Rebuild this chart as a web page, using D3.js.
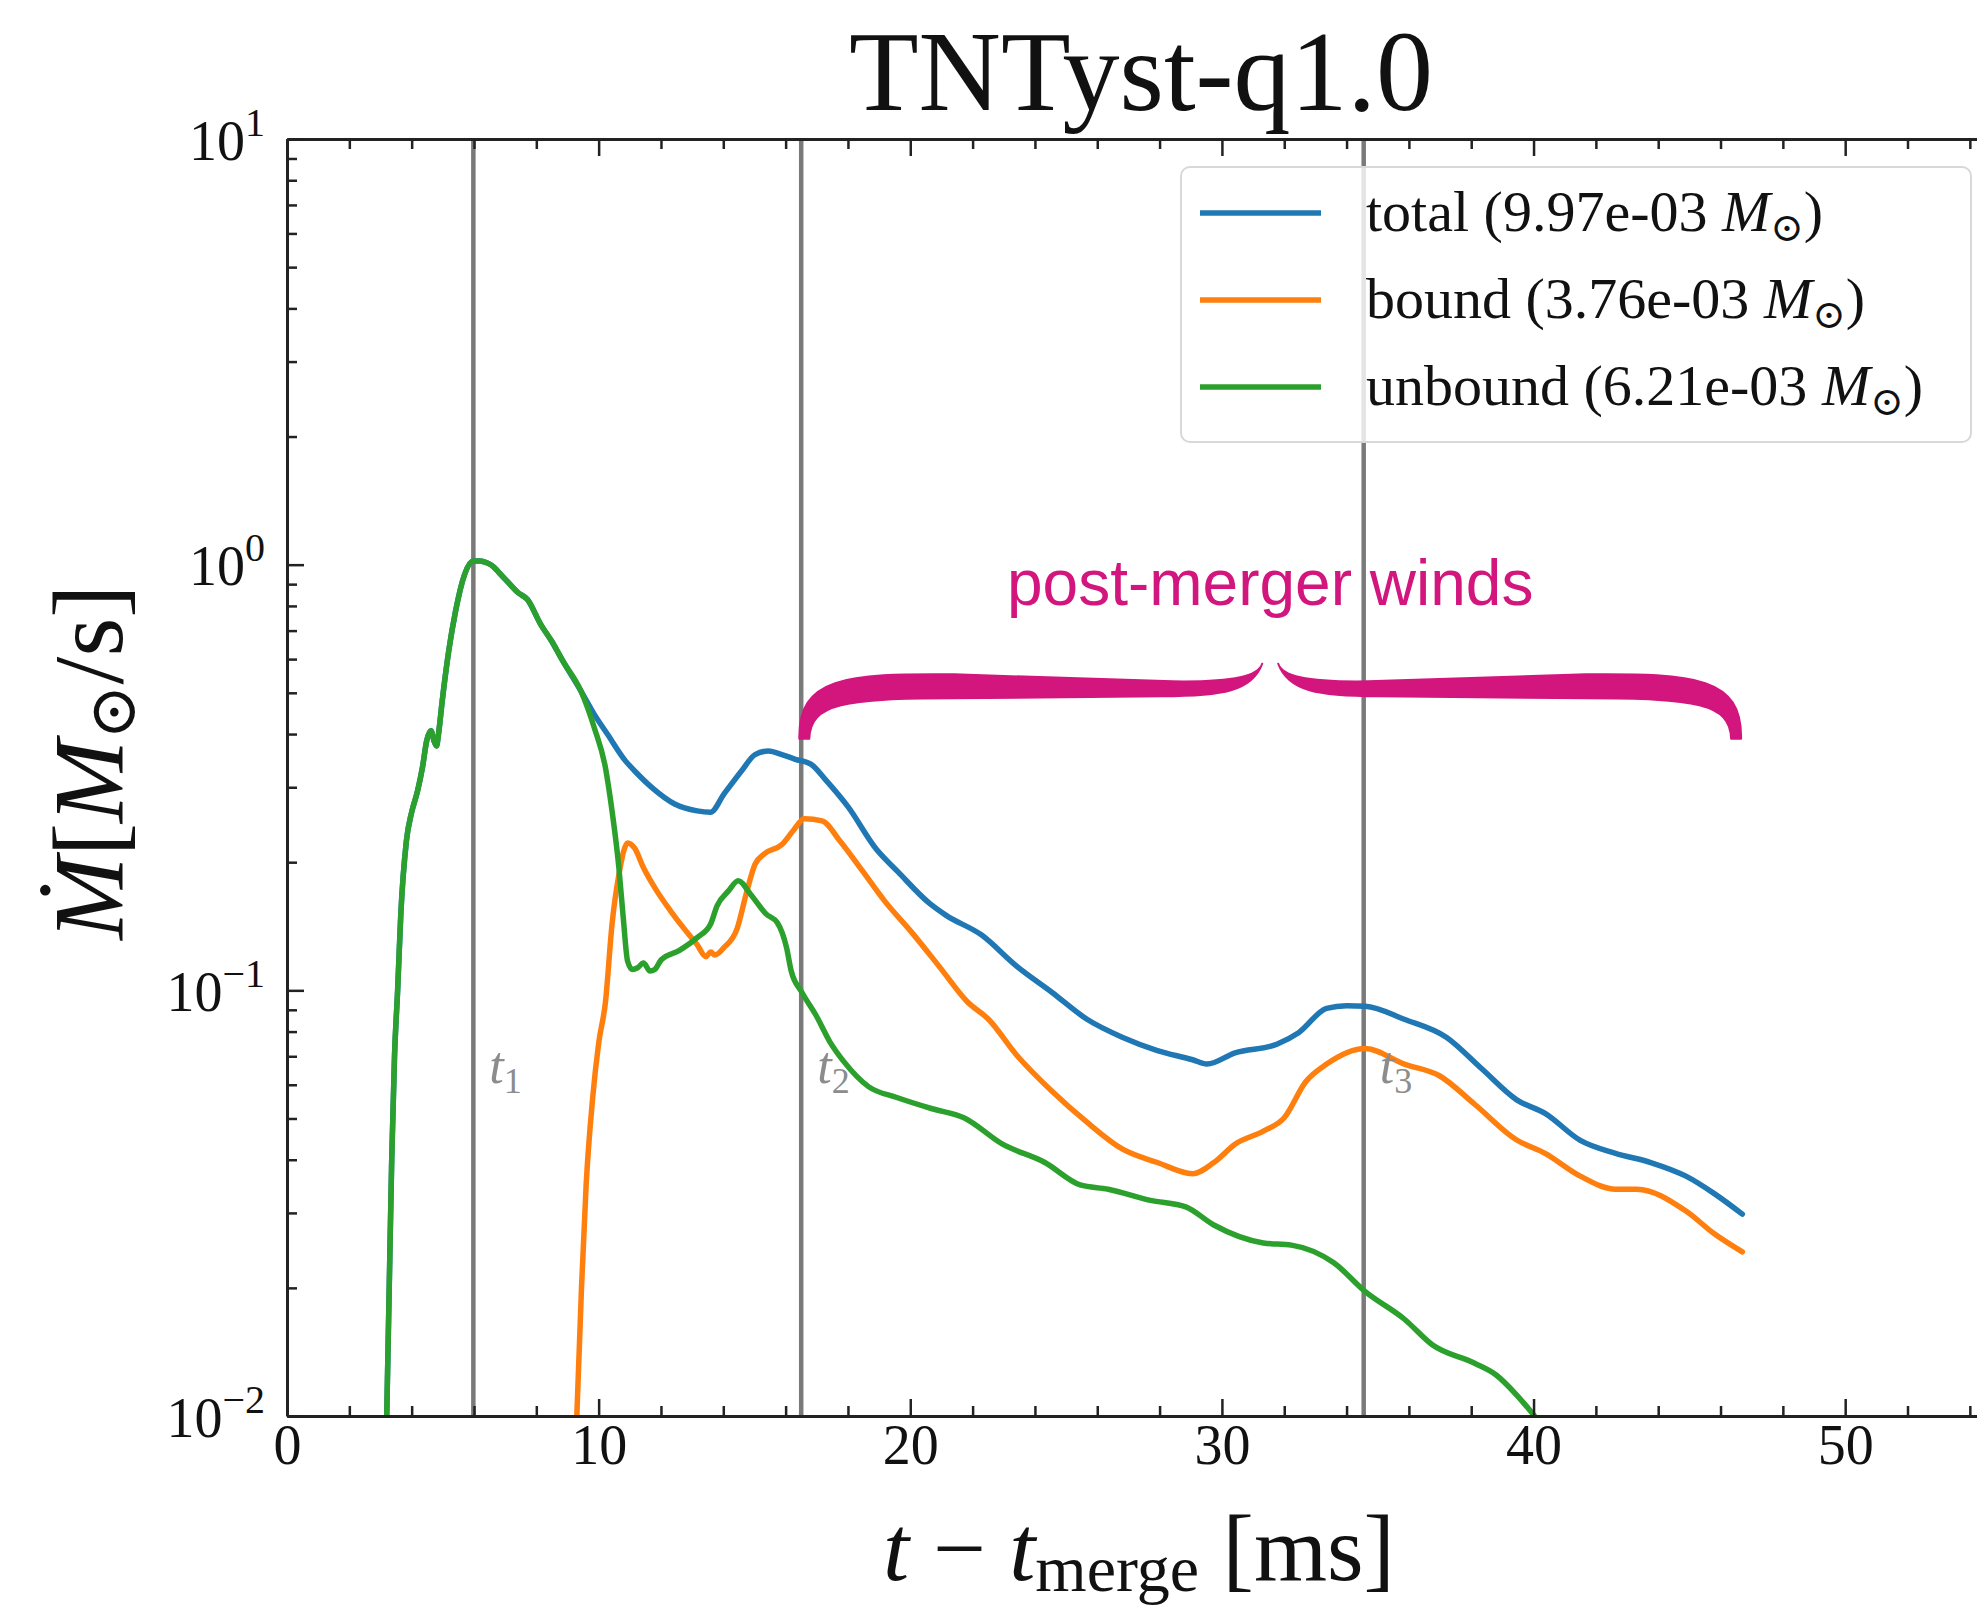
<!DOCTYPE html>
<html><head><meta charset="utf-8">
<script src="https://cdn.jsdelivr.net/npm/d3@7"></script>
<style>body{margin:0;background:#fff}svg{display:block}</style>
</head><body>
<svg id="c" width="1977" height="1615"></svg>
<script>
// ---------- data ----------
const titleText = "TNTyst-q1.0";
const totalT = [3.2,3.28,3.36,3.45,3.55,3.65,3.83,4.0,4.19,4.35,4.48,4.62,4.72,4.8,4.86,4.98,5.19,5.41,5.70,5.98,6.2,6.41,6.62,6.85,7.06,7.42,7.71,8.14,8.5,8.85,9.43,9.86,10.29,10.86,11.15,11.72,12.44,13.16,13.59,14.02,14.59,15.02,15.45,15.88,16.31,16.81,17.32,18.0,18.9,19.6,20.62,21.15,22.28,23.41,24.54,25.67,26.80,27.93,29.06,29.52,30.42,31.78,32.46,33.36,34.0,34.60,35.85,37.20,38.33,39.46,40.37,41.50,42.63,43.76,44.89,45.80,46.70];
const totalV = [0.01,0.02,0.04,0.07,0.1,0.15,0.224,0.262,0.294,0.335,0.385,0.407,0.385,0.375,0.399,0.478,0.627,0.778,0.949,1.02,1.02,1.01,0.99,0.95,0.915,0.859,0.829,0.724,0.66,0.594,0.505,0.445,0.399,0.346,0.328,0.299,0.274,0.264,0.262,0.289,0.328,0.358,0.365,0.358,0.349,0.340,0.310,0.27,0.215,0.19,0.160,0.150,0.135,0.114,0.099,0.0855,0.0776,0.0722,0.0687,0.0671,0.0713,0.0748,0.0795,0.0907,0.092,0.0918,0.0855,0.0776,0.0655,0.0553,0.0514,0.0444,0.0414,0.0394,0.0366,0.0333,0.0298];

const boundT = [9.3,9.45,9.6,9.8,10.0,10.22,10.43,10.65,10.93,11.15,11.44,11.87,12.30,12.73,13.16,13.44,13.6,13.73,14.02,14.45,14.73,15.02,15.31,15.88,16.24,16.6,17.17,17.75,18.46,19.18,20.04,20.92,21.83,22.51,23.41,24.54,25.67,26.80,27.93,29.06,29.74,30.42,31.33,32.0,32.69,33.36,34.60,35.85,36.98,38.11,39.46,40.37,41.50,42.63,43.31,44.89,45.80,46.70];
const boundV = [0.01,0.02,0.035,0.055,0.075,0.094,0.143,0.187,0.222,0.216,0.194,0.171,0.154,0.140,0.128,0.120,0.123,0.121,0.126,0.140,0.168,0.198,0.209,0.220,0.237,0.253,0.25,0.224,0.191,0.162,0.137,0.114,0.094,0.0855,0.0705,0.058,0.049,0.0424,0.0394,0.0371,0.0394,0.0435,0.0467,0.0502,0.061,0.0671,0.073,0.0671,0.063,0.054,0.0445,0.0414,0.0366,0.0341,0.0341,0.0303,0.0268,0.0243];

const unboundT = [3.2,3.28,3.36,3.45,3.55,3.65,3.83,4.0,4.19,4.35,4.48,4.62,4.72,4.8,4.86,4.98,5.19,5.41,5.70,5.98,6.2,6.41,6.62,6.85,7.06,7.42,7.71,8.14,8.5,8.85,9.43,9.86,10.22,10.43,10.65,10.79,10.93,11.08,11.25,11.44,11.65,11.80,12.01,12.58,13.16,13.59,13.80,14.16,14.48,14.88,15.38,15.74,16.03,16.18,16.52,16.97,17.42,17.87,18.66,19.57,20.70,21.72,22.96,24.32,25.45,26.35,27.71,28.84,29.74,31.33,32.23,33.59,34.60,35.85,36.75,38.11,38.79,39.46,40.03];
const unboundV = [0.01,0.02,0.04,0.07,0.1,0.15,0.224,0.262,0.294,0.335,0.385,0.407,0.385,0.375,0.399,0.478,0.627,0.778,0.949,1.02,1.02,1.01,0.99,0.95,0.915,0.859,0.829,0.724,0.66,0.594,0.505,0.414,0.333,0.264,0.194,0.148,0.117,0.112,0.113,0.116,0.111,0.112,0.118,0.124,0.133,0.143,0.158,0.171,0.181,0.168,0.151,0.144,0.126,0.111,0.099,0.0875,0.0757,0.068,0.0594,0.056,0.0527,0.0502,0.0435,0.0394,0.0349,0.0341,0.0321,0.031,0.0281,0.0255,0.0252,0.0229,0.0196,0.0169,0.0147,0.0133,0.0125,0.0112,0.01];

const seriesNames = ["total", "bound", "unbound"];
const seriesMass = ["9.97e-03", "3.76e-03", "6.21e-03"];
const seriesColors = ["#1f77b4", "#ff7f0e", "#2ca02c"];

const markerTimes = [5.98, 16.5, 34.55];
const markerLabels = ["1", "2", "3"];

const xTickValues = [0, 10, 20, 30, 40, 50];
const xMinorValues = [2,4,6,8,12,14,16,18,22,24,26,28,32,34,36,38,42,44,46,48,52,54];
const yTickValues = [0.01, 0.1, 1, 10];
const yTickExps = ["\u22122", "\u22121", "0", "1"];

const braceStart = 16.6, braceEnd = 46.5, braceTipValue = 0.39, braceBandValue = 0.515, braceCenterValue = 0.585;
const annotationText = "post-merger winds";

// ---------- layout ----------
const L = 287, T = 139, B = 1416, R = 2001;
const svg = d3.select("#c");
const serif = "'Liberation Serif','DejaVu Serif',serif";
const x = d3.scaleLinear().domain([0, 55]).range([L, R]);
const y = d3.scaleLog().domain([0.01, 10]).range([B, T]);

svg.append("defs").append("clipPath").attr("id", "clip")
  .append("rect").attr("x", L).attr("y", T).attr("width", R - L).attr("height", B - T);

// vertical marker lines
const plot = svg.append("g").attr("clip-path", "url(#clip)");
plot.selectAll("line.vm").data(markerTimes).join("line").attr("class", "vm")
  .attr("x1", d => x(d)).attr("x2", d => x(d)).attr("y1", T).attr("y2", B)
  .attr("stroke", "#7a7a7a").attr("stroke-width", 4.5);

// curves
const line = d3.line().x(d => x(d[0])).y(d => y(d[1])).curve(d3.curveMonotoneX);
const series = [
  d3.zip(totalT, totalV),
  d3.zip(boundT, boundV),
  d3.zip(unboundT, unboundV)
];
plot.selectAll("path.s").data(series).join("path").attr("class", "s")
  .attr("d", line).attr("fill", "none")
  .attr("stroke", (d, i) => seriesColors[i]).attr("stroke-width", 5.5)
  .attr("stroke-linejoin", "round").attr("stroke-linecap", "round");

// marker labels
const ml = svg.selectAll("text.ml").data(markerTimes).join("text").attr("class", "ml")
  .attr("x", d => x(d) + 16).attr("y", 1083)
  .attr("font-family", serif).attr("font-size", 52).attr("fill", "#8c8c8c");
ml.append("tspan").attr("font-style", "italic").text("t");
ml.append("tspan").attr("font-size", 36).attr("dy", 10).text((d, i) => markerLabels[i]);

// axes
function styleAxis(g) {
  g.select(".domain").attr("stroke", "#222").attr("stroke-width", 3);
  g.selectAll(".tick line").attr("stroke", "#222").attr("stroke-width", 2.5);
}
const xb = svg.append("g").attr("transform", `translate(0,${B})`)
  .call(d3.axisBottom(x).tickValues(xTickValues).tickSizeInner(-17).tickSizeOuter(0).tickPadding(0).tickFormat(d3.format("d")));
styleAxis(xb);
xb.selectAll(".tick text").attr("font-family", serif).attr("font-size", 56).attr("fill", "#111")
  .attr("y", 48).attr("dy", null);
const xbm = svg.append("g").attr("transform", `translate(0,${B})`)
  .call(d3.axisBottom(x).tickValues(xMinorValues).tickSizeInner(-10).tickSizeOuter(0).tickFormat(""));
styleAxis(xbm); xbm.select(".domain").remove();
const xt = svg.append("g").attr("transform", `translate(0,${T})`)
  .call(d3.axisTop(x).tickValues(xTickValues).tickSizeInner(-17).tickSizeOuter(0).tickFormat(""));
styleAxis(xt);
const xtm = svg.append("g").attr("transform", `translate(0,${T})`)
  .call(d3.axisTop(x).tickValues(xMinorValues).tickSizeInner(-10).tickSizeOuter(0).tickFormat(""));
styleAxis(xtm); xtm.select(".domain").remove();

const yl = svg.append("g").attr("transform", `translate(${L},0)`)
  .call(d3.axisLeft(y).tickValues(yTickValues).tickSizeInner(-17).tickSizeOuter(0).tickPadding(0).tickFormat(""));
styleAxis(yl);
yl.selectAll(".tick text").each(function(d, i) {
  const t = d3.select(this);
  t.text(null).attr("font-family", serif).attr("font-size", 56).attr("fill", "#111")
    .attr("x", -22).attr("dy", null).attr("y", 20).attr("text-anchor", "end");
  t.append("tspan").text("10");
  t.append("tspan").attr("font-size", 40).attr("dy", -24).text(yTickExps[i]);
});
const yMinor = [];
[0.01, 0.1, 1].forEach(b => { for (let k = 2; k <= 9; k++) yMinor.push(b * k); });
const ylm = svg.append("g").attr("transform", `translate(${L},0)`)
  .call(d3.axisLeft(y).tickValues(yMinor).tickSizeInner(-10).tickSizeOuter(0).tickFormat(""));
styleAxis(ylm); ylm.select(".domain").remove();

// title
svg.append("text").attr("x", 1141).attr("y", 110).attr("text-anchor", "middle")
  .attr("font-family", serif).attr("font-size", 114).attr("fill", "#111").text(titleText);

// x label
const xlab = svg.append("text").attr("x", 1139).attr("y", 1580).attr("text-anchor", "middle")
  .attr("font-family", serif).attr("font-size", 94).attr("fill", "#111");
xlab.append("tspan").attr("font-style", "italic").text("t");
xlab.append("tspan").text(" \u2212 ");
xlab.append("tspan").attr("font-style", "italic").text("t");
xlab.append("tspan").attr("font-size", 66).attr("dy", 11).text("merge");
xlab.append("tspan").attr("dy", -11).text(" [ms]");

// y label
const ylab = svg.append("text").attr("transform", "translate(122,762) rotate(-90)")
  .attr("text-anchor", "middle").attr("font-family", serif).attr("font-size", 100).attr("fill", "#111");
ylab.append("tspan").attr("font-style", "italic").text("\u1E40");
ylab.append("tspan").text("[");
ylab.append("tspan").attr("font-style", "italic").text("M");
ylab.append("tspan").attr("font-size", 66).attr("dy", 13).text("\u2299");
ylab.append("tspan").attr("dy", -13).text("/s]");

// legend
const lg = svg.append("g");
lg.append("rect").attr("x", 1181).attr("y", 167).attr("width", 790).attr("height", 275).attr("rx", 9)
  .attr("fill", "#fff").attr("fill-opacity", 0.8).attr("stroke", "#d8d8d8").attr("stroke-width", 2);
const rowY = [213, 300, 387];
seriesNames.forEach((n, i) => {
  lg.append("line").attr("x1", 1200).attr("x2", 1321).attr("y1", rowY[i]).attr("y2", rowY[i])
    .attr("stroke", seriesColors[i]).attr("stroke-width", 5.5);
  const t = lg.append("text").attr("x", 1366).attr("y", rowY[i] + 18)
    .attr("font-family", serif).attr("font-size", 58).attr("fill", "#111");
  t.append("tspan").text(`${n} (${seriesMass[i]} `);
  t.append("tspan").attr("font-style", "italic").text("M");
  t.append("tspan").attr("font-size", 40).attr("dy", 10).text("\u2299");
  t.append("tspan").attr("dy", -10).text(")");
});

// annotation brace
const magenta = "#d2167e";
function halfBrace(xTip, xC, yTip, yB, yC) {
  const s = xC > xTip ? 1 : -1;
  const p = d3.path();
  p.moveTo(xTip - s * 5, yTip);
  p.bezierCurveTo(xTip - s * 6, yB - 10, xTip + s * 40, yB - 14, xTip + s * 150, yB - 13);
  p.lineTo(xC - s * 90, yB - 6);
  p.bezierCurveTo(xC - s * 25, yB - 5, xC - s * 4, yB - 12, xC, yC);
  p.bezierCurveTo(xC - s * 10, yB + 4, xC - s * 40, yB + 9, xC - s * 100, yB + 9);
  p.lineTo(xTip + s * 150, yB + 11);
  p.bezierCurveTo(xTip + s * 40, yB + 11, xTip + s * 6, yB + 16, xTip + s * 5, yTip);
  p.closePath();
  return p.toString();
}
const xMid = (x(braceStart) + x(braceEnd)) / 2;
const ab = svg.append("g").attr("fill", magenta).attr("stroke", magenta).attr("stroke-width", 2).attr("stroke-linejoin", "round");
ab.append("path").attr("d", halfBrace(x(braceStart), xMid - 8, y(braceTipValue), y(braceBandValue), y(braceCenterValue)));
ab.append("path").attr("d", halfBrace(x(braceEnd), xMid + 8, y(braceTipValue), y(braceBandValue), y(braceCenterValue)));
svg.append("text").attr("x", xMid).attr("y", 605).attr("text-anchor", "middle")
  .attr("font-family", "'Liberation Sans','Helvetica','Arial',sans-serif").attr("font-size", 64)
  .attr("fill", magenta).text(annotationText);
</script>
</body></html>
